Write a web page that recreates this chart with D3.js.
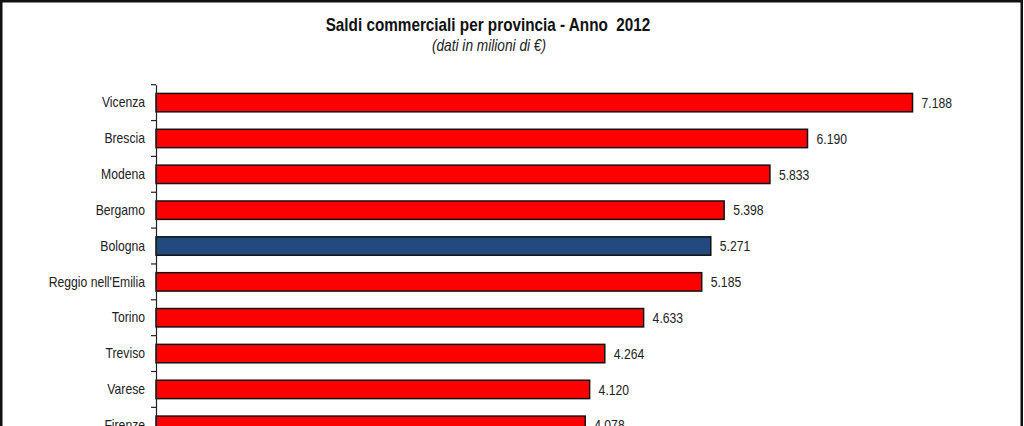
<!DOCTYPE html>
<html>
<head>
<meta charset="utf-8">
<script src="https://cdn.jsdelivr.net/npm/d3@7"></script>
<style>
  html, body { margin: 0; padding: 0; background: #fff; }
  svg { display: block; }
  text { font-family: "Liberation Sans", Arial, sans-serif; }
</style>
</head>
<body>
<svg id="chart" width="1024" height="426"></svg>
<script>
const categories = ["Vicenza", "Brescia", "Modena", "Bergamo", "Bologna", "Reggio nell'Emilia", "Torino", "Treviso", "Varese", "Firenze"];
const values = [7188, 6190, 5833, 5398, 5271, 5185, 4633, 4264, 4120, 4078];
const highlight = ["Bologna"];
const titleText = "Saldi commerciali per provincia - Anno  2012";
const subtitleText = "(dati in milioni di \u20AC)";

const W = 1024, H = 426;
const SX = 0.84; // emulate a narrow typeface
const svg = d3.select("#chart");

const it = d3.formatLocale({decimal: ",", thousands: ".", grouping: [3], currency: ["\u20AC", ""]});
const fmt = it.format(",d");

const data = categories.map((c, i) => ({cat: c, val: values[i]}));

// outer frame
svg.append("rect")
  .attr("x", 1.25).attr("y", 1.25)
  .attr("width", W - 3.5).attr("height", H + 10)
  .attr("fill", "none").attr("stroke", "#111").attr("stroke-width", 2.5);

// titles
svg.append("text")
  .attr("x", 488 / SX).attr("y", 31)
  .attr("transform", `scale(${SX},1)`)
  .attr("text-anchor", "middle")
  .attr("font-size", 18.2).attr("font-weight", "bold").attr("fill", "#111")
  .style("white-space", "pre")
  .text(titleText);
svg.append("text")
  .attr("x", 489 / SX).attr("y", 51.5)
  .attr("transform", `scale(${SX},1)`)
  .attr("text-anchor", "middle")
  .attr("font-size", 16.3).attr("font-style", "italic").attr("fill", "#222")
  .text(subtitleText);

const x = d3.scaleLinear().domain([0, 8000]).range([156, 998]);
const y0 = 84.7, step = 35.85;
const y = d3.scaleBand().domain(categories)
  .range([y0, y0 + step * categories.length])
  .paddingInner(0.487).paddingOuter(0.2435);
const yBand = d3.scaleBand().domain(categories).range([y0, y0 + step * categories.length]);

// bars
svg.append("g").selectAll("rect").data(data).join("rect")
  .attr("x", x(0))
  .attr("y", d => y(d.cat))
  .attr("width", d => x(d.val) - x(0))
  .attr("height", y.bandwidth())
  .attr("fill", d => highlight.includes(d.cat) ? "#234A7E" : "#FF0000")
  .attr("stroke", "#111").attr("stroke-width", 1.5);

// value labels
svg.append("g").attr("transform", `scale(${SX},1)`)
  .selectAll("text").data(data).join("text")
  .attr("x", d => (x(d.val) + 9) / SX)
  .attr("y", d => y(d.cat) + y.bandwidth() / 2)
  .attr("dy", "0.36em")
  .attr("font-size", 14.5).attr("fill", "#222")
  .text(d => fmt(d.val));

// y axis with category labels
const axis = svg.append("g").attr("transform", `translate(${x(0)},0)`)
  .call(d3.axisLeft(y).tickSize(0).tickPadding(11));
axis.select(".domain").attr("stroke", "#222").attr("stroke-width", 1.2);
axis.selectAll(".tick text")
  .attr("x", -11 / SX)
  .attr("transform", `scale(${SX},1)`)
  .attr("font-size", 14.5).attr("fill", "#222")
  .style("font-family", "\"Liberation Sans\", Arial, sans-serif");

// boundary ticks
const bounds = categories.map(c => yBand(c));
svg.append("g").selectAll("line").data(bounds).join("line")
  .attr("x1", x(0) - 5).attr("x2", x(0))
  .attr("y1", d => d).attr("y2", d => d)
  .attr("stroke", "#222").attr("stroke-width", 1.2);
</script>
</body>
</html>
